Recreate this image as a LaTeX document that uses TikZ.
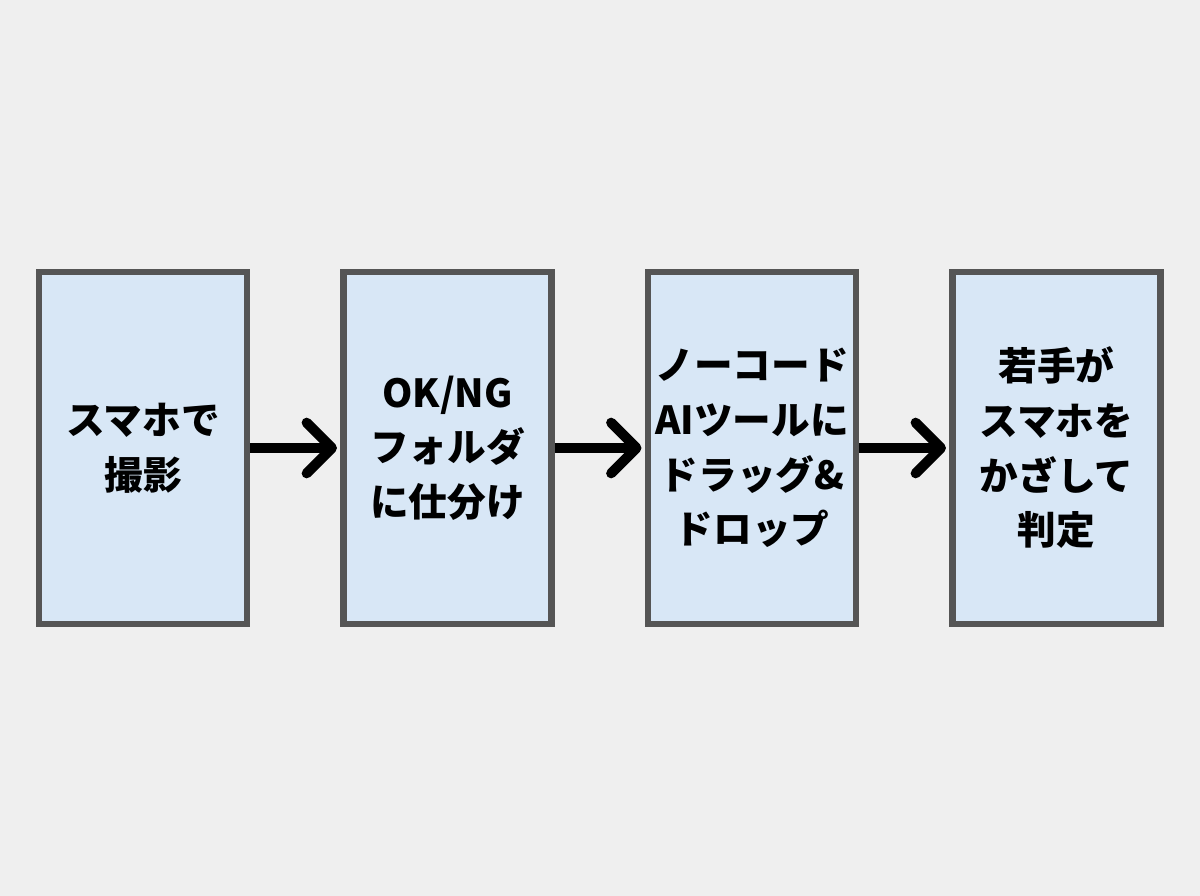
\documentclass[tikz,border=0pt]{standalone}
\usepackage{fontspec}
\setmainfont{Noto Sans CJK JP}
\usetikzlibrary{arrows.meta,positioning}
\definecolor{bgcol}{HTML}{EFEFEF}
\definecolor{boxfill}{HTML}{D8E7F6}
\definecolor{boxline}{HTML}{555555}

\begin{document}
\begin{tikzpicture}[
  x=0.75pt, y=-0.75pt,
  stage/.style={draw=boxline, fill=boxfill, line width=4.8pt, minimum width=156pt,
    minimum height=264pt, inner sep=0pt, align=center,
    font=\fontsize{29}{41}\selectfont\bfseries},
  flow/.style={draw=black, line width=7.5pt, -{Straight Barb[round,length=19pt,width=38pt]},
    shorten >=2.5pt}
]
\fill[bgcol] (0,0) rectangle (1200,896);
\node[stage] (shoot) at (143,448) {スマホで\\撮影};
\node[stage] (sort) at (447.5,448) {OK/NG\\フォルダ\\に仕分け};
\node[stage] (tool) at (752,448) {ノーコード\\AIツールに\\ドラッグ\&\\ドロップ};
\node[stage] (judge) at (1056.5,448) {若手が\\スマホを\\かざして\\判定};
\draw[flow] (shoot) -- (sort);
\draw[flow] (sort) -- (tool);
\draw[flow] (tool) -- (judge);
\end{tikzpicture}
\end{document}
